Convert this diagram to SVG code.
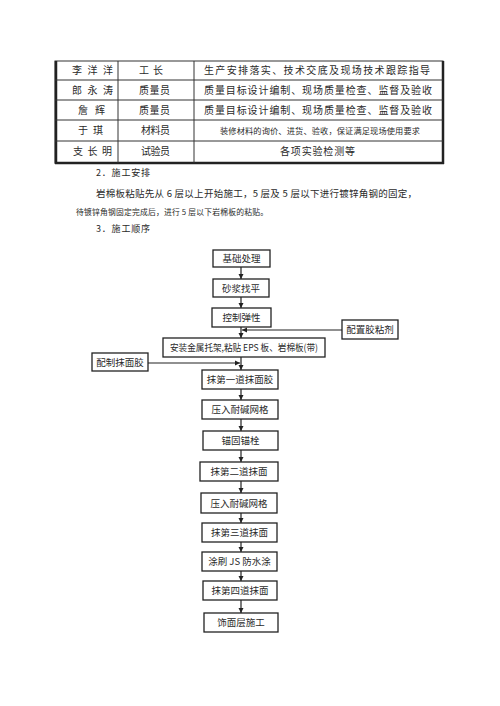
<svg xmlns="http://www.w3.org/2000/svg" width="500" height="706" viewBox="0 0 500 706">
<style>
.t{font-family:"Noto Sans CJK SC","Noto Sans",sans-serif;fill:#2a2a2a;font-size:10px}
.f{font-size:9.5px}
.b{fill:#fff;stroke:#222;stroke-width:1.3}
.c{stroke:#222;stroke-width:1.2;fill:none}
.g{stroke:#333;stroke-width:1;fill:none}
</style>
<defs>
<marker id="a" markerUnits="userSpaceOnUse" markerWidth="6" markerHeight="6" refX="5" refY="3" orient="auto">
<path d="M0,0.5 L5,3 L0,5.5 Z" fill="#222"/>
</marker>
</defs>
<rect width="500" height="706" fill="#fff"/>
<g id="table">
<rect x="55" y="61" width="388" height="102" class="g"/>
<line x1="56" y1="61" x2="56" y2="164" stroke="#222" stroke-width="2.5"/>
<line x1="443" y1="61" x2="443" y2="164" stroke="#222" stroke-width="2.5"/>
<line x1="55" y1="163" x2="444" y2="163" stroke="#222" stroke-width="2.5"/>
<line x1="55" y1="80" x2="443" y2="80" class="g"/>
<line x1="55" y1="100" x2="443" y2="100" class="g"/>
<line x1="55" y1="120" x2="443" y2="120" class="g"/>
<line x1="55" y1="141" x2="443" y2="141" class="g"/>
<line x1="118" y1="61" x2="118" y2="163" class="g"/>
<line x1="194" y1="61" x2="194" y2="163" class="g"/>
<text class="t" x="72" y="74" textLength="41" lengthAdjust="spacing">李洋洋</text>
<text class="t" x="139" y="74" textLength="24" lengthAdjust="spacing">工长</text>
<text class="t" x="204" y="74" textLength="226" lengthAdjust="spacing">生产安排落实、技术交底及现场技术跟踪指导</text>
<text class="t" x="72" y="94" textLength="41" lengthAdjust="spacing">郎永涛</text>
<text class="t" x="139" y="94" textLength="31" lengthAdjust="spacing">质量员</text>
<text class="t" x="204" y="94" textLength="228" lengthAdjust="spacing">质量目标设计编制、现场质量检查、监督及验收</text>
<text class="t" x="78" y="114" textLength="27" lengthAdjust="spacing">詹辉</text>
<text class="t" x="139" y="114" textLength="31" lengthAdjust="spacing">质量员</text>
<text class="t" x="204" y="114" textLength="228" lengthAdjust="spacing">质量目标设计编制、现场质量检查、监督及验收</text>
<text class="t" x="78" y="134" textLength="25" lengthAdjust="spacing">于琪</text>
<text class="t" x="141" y="134" textLength="29" lengthAdjust="spacing">材料员</text>
<text class="t" x="220" y="134" style="font-size:8.2px" textLength="200" lengthAdjust="spacing">装修材料的询价、进货、验收，保证满足现场使用要求</text>
<text class="t" x="73" y="155" textLength="39" lengthAdjust="spacing">支长明</text>
<text class="t" x="141" y="155" textLength="29" lengthAdjust="spacing">试验员</text>
<text class="t" x="280" y="155" textLength="75" lengthAdjust="spacing">各项实验检测等</text>
</g>
<g id="para">
<text class="t" x="96" y="176" style="font-size:9px" textLength="54" lengthAdjust="spacing">2．施工安排</text>
<text class="t" x="96" y="197" style="font-size:9.5px" textLength="321" lengthAdjust="spacing">岩棉板粘贴先从 6 层以上开始施工，5 层及 5 层以下进行镀锌角钢的固定，</text>
<text class="t" x="76" y="215" style="font-size:7.8px" textLength="192" lengthAdjust="spacing">待镀锌角钢固定完成后，进行 5 层以下岩棉板的粘贴。</text>
<text class="t" x="96" y="232" style="font-size:9px" textLength="54" lengthAdjust="spacing">3．施工顺序</text>
</g>
<g id="connectors">
<line x1="241" y1="267" x2="241" y2="279" class="c" marker-end="url(#a)"/>
<line x1="241" y1="297" x2="241" y2="308" class="c" marker-end="url(#a)"/>
<line x1="241" y1="327" x2="241" y2="338" class="c" marker-end="url(#a)"/>
<line x1="342" y1="330" x2="242" y2="330" class="c" marker-end="url(#a)"/>
<line x1="241" y1="357" x2="241" y2="370" class="c" marker-end="url(#a)"/>
<line x1="148" y1="363" x2="240" y2="363" class="c" marker-end="url(#a)"/>
<line x1="241" y1="389" x2="241" y2="400" class="c" marker-end="url(#a)"/>
<line x1="241" y1="419" x2="241" y2="431" class="c" marker-end="url(#a)"/>
<line x1="241" y1="450" x2="241" y2="462" class="c" marker-end="url(#a)"/>
<line x1="241" y1="481" x2="241" y2="493" class="c" marker-end="url(#a)"/>
<line x1="241" y1="513" x2="241" y2="523" class="c" marker-end="url(#a)"/>
<line x1="241" y1="542" x2="241" y2="552" class="c" marker-end="url(#a)"/>
<line x1="241" y1="571" x2="241" y2="581" class="c" marker-end="url(#a)"/>
<line x1="241" y1="600" x2="241" y2="613" class="c" marker-end="url(#a)"/>
</g>
<g id="n1"><rect class="b" x="213" y="250" width="57" height="17"/><text class="t f" x="241.5" y="262" text-anchor="middle">基础处理</text></g>
<g id="n2"><rect class="b" x="213" y="279" width="56" height="18"/><text class="t f" x="241" y="291.5" text-anchor="middle">砂浆找平</text></g>
<g id="n3"><rect class="b" x="212" y="308" width="59" height="19"/><text class="t f" x="241.5" y="321" text-anchor="middle">控制弹性</text></g>
<g id="n4"><rect class="b" x="342" y="320" width="56" height="19"/><text class="t f" x="370" y="333" text-anchor="middle">配置胶粘剂</text></g>
<g id="n5"><rect class="b" x="163" y="338" width="162" height="19"/><text class="t f" x="244" y="351" text-anchor="middle" textLength="148" lengthAdjust="spacingAndGlyphs">安装金属托架,粘贴 EPS 板、岩棉板(带)</text></g>
<g id="n6"><rect class="b" x="92" y="353" width="56" height="18"/><text class="t f" x="120" y="366" text-anchor="middle">配制抹面胶</text></g>
<g id="n7"><rect class="b" x="202" y="370" width="76" height="19"/><text class="t f" x="240" y="383" text-anchor="middle">抹第一道抹面胶</text></g>
<g id="n8"><rect class="b" x="202" y="400" width="76" height="19"/><text class="t f" x="240" y="413" text-anchor="middle">压入耐碱网格</text></g>
<g id="n9"><rect class="b" x="203" y="431" width="75" height="19"/><text class="t f" x="240.5" y="444" text-anchor="middle">锚固锚栓</text></g>
<g id="n10"><rect class="b" x="200" y="462" width="78" height="19"/><text class="t f" x="239" y="475" text-anchor="middle">抹第二道抹面</text></g>
<g id="n11"><rect class="b" x="201" y="493" width="76" height="20"/><text class="t f" x="239" y="506.5" text-anchor="middle">压入耐碱网格</text></g>
<g id="n12"><rect class="b" x="202" y="523" width="75" height="19"/><text class="t f" x="239.5" y="536" text-anchor="middle">抹第三道抹面</text></g>
<g id="n13"><rect class="b" x="202" y="552" width="75" height="19"/><text class="t f" x="239.5" y="565" text-anchor="middle">涂刷 JS 防水涂</text></g>
<g id="n14"><rect class="b" x="203" y="581" width="74" height="19"/><text class="t f" x="240" y="594" text-anchor="middle">抹第四道抹面</text></g>
<g id="n15"><rect class="b" x="204" y="613" width="74" height="19"/><text class="t f" x="241" y="626" text-anchor="middle">饰面层施工</text></g>
</svg>
